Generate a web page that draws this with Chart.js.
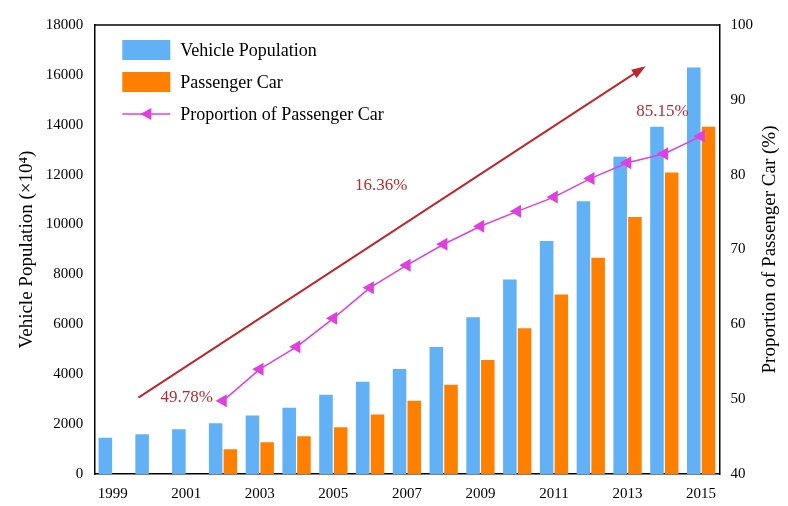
<!DOCTYPE html>
<html>
<head>
<meta charset="utf-8">
<script src="https://cdn.jsdelivr.net/npm/chart.js@4/dist/chart.umd.min.js"></script>
<style>
  body { margin: 0; background: #fff; }
  #wrap { width: 788px; height: 506px; }
</style>
</head>
<body>
<div id="wrap"><canvas id="c"></canvas></div>
<script>
// data
const years = ["1999","2000","2001","2002","2003","2004","2005","2006","2007","2008","2009","2010","2011","2012","2013","2014","2015"];
const vehiclePop = [1450, 1590, 1790, 2030, 2350, 2660, 3180, 3700, 4210, 5090, 6280, 7800, 9340, 10930, 12720, 13920, 16300];
const passengerCar = [null, null, null, 990, 1270, 1510, 1870, 2390, 2940, 3580, 4570, 5840, 7200, 8670, 10300, 12090, 13920];
const proportion = [null, null, null, 49.78, 54.0, 57.0, 60.8, 64.9, 67.9, 70.7, 73.1, 75.1, 77.0, 79.5, 81.6, 82.8, 85.15];

const serif = "'Liberation Serif', 'DejaVu Serif', serif";
const blue = "#62b0f5";
const orange = "#ff8000";
const magenta = "#e040e0";
const red = "#c0272d";

// arrow, legend, labels and frame
const extras = {
  id: "extras",
  afterDraw(chart) {
    const ctx = chart.ctx;
    const x = chart.scales.x, yr = chart.scales.y2;
    const area = chart.chartArea;
    ctx.save();
    // frame top
    ctx.strokeStyle = "#000";
    ctx.lineWidth = 1.5;
    ctx.beginPath();
    ctx.moveTo(area.left, area.top);
    ctx.lineTo(area.right, area.top);
    ctx.stroke();

    // right title, reading bottom to top
    ctx.save();
    ctx.translate(yr.right + 14, (area.top + area.bottom) / 2);
    ctx.rotate(-Math.PI / 2);
    ctx.font = "19px " + serif;
    ctx.fillStyle = "#000";
    ctx.textAlign = "center";
    ctx.textBaseline = "middle";
    ctx.fillText("Proportion of Passenger Car (%)", 0, 0);
    ctx.restore();

    // arrow
    const x1 = x.getPixelForValue(0.7), y1 = yr.getPixelForValue(50.2);
    const x2 = x.getPixelForValue(14.4), y2 = yr.getPixelForValue(94.2);
    ctx.strokeStyle = red;
    ctx.fillStyle = red;
    ctx.lineWidth = 2;
    ctx.beginPath();
    ctx.moveTo(x1, y1);
    ctx.lineTo(x2, y2);
    ctx.stroke();
    const ang = Math.atan2(y2 - y1, x2 - x1);
    ctx.beginPath();
    ctx.moveTo(x2 + 4 * Math.cos(ang), y2 + 4 * Math.sin(ang));
    ctx.lineTo(x2 - 10 * Math.cos(ang) + 5 * Math.sin(ang), y2 - 10 * Math.sin(ang) - 5 * Math.cos(ang));
    ctx.lineTo(x2 - 10 * Math.cos(ang) - 5 * Math.sin(ang), y2 - 10 * Math.sin(ang) + 5 * Math.cos(ang));
    ctx.closePath();
    ctx.fill();

    // value labels
    ctx.font = "17px " + serif;
    ctx.fillStyle = red;
    ctx.textBaseline = "middle";
    ctx.textAlign = "right";
    ctx.fillText("49.78%", x.getPixelForValue(3) - 10, yr.getPixelForValue(50.2));
    ctx.textAlign = "center";
    ctx.fillText("85.15%", x.getPixelForValue(15) - 2, yr.getPixelForValue(88.5));
    ctx.fillText("16.36%", x.getPixelForValue(7.3), yr.getPixelForValue(78.5));

    // legend
    const lx = area.left + 28, ly = area.top + 15;
    ctx.font = "18px " + serif;
    ctx.textAlign = "left";
    ctx.fillStyle = blue;
    ctx.fillRect(lx, ly, 48, 20);
    ctx.fillStyle = orange;
    ctx.fillRect(lx, ly + 32, 48, 20);
    ctx.strokeStyle = magenta;
    ctx.lineWidth = 1.5;
    ctx.beginPath();
    ctx.moveTo(lx, ly + 74);
    ctx.lineTo(lx + 48, ly + 74);
    ctx.stroke();
    ctx.fillStyle = magenta;
    ctx.beginPath();
    ctx.moveTo(lx + 18, ly + 74);
    ctx.lineTo(lx + 29, ly + 68);
    ctx.lineTo(lx + 29, ly + 80);
    ctx.closePath();
    ctx.fill();
    ctx.fillStyle = "#000";
    ctx.fillText("Vehicle Population", lx + 58, ly + 11);
    ctx.fillText("Passenger Car", lx + 58, ly + 43);
    ctx.fillText("Proportion of Passenger Car", lx + 58, ly + 75);
    ctx.restore();
  }
};

new Chart(document.getElementById("c"), {
  type: "bar",
  data: {
    labels: years,
    datasets: [
      { label: "Vehicle Population", data: vehiclePop, backgroundColor: blue, yAxisID: "y", order: 2, categoryPercentage: 0.8, barPercentage: 0.92 },
      { label: "Passenger Car", data: passengerCar, backgroundColor: orange, yAxisID: "y", order: 2, categoryPercentage: 0.8, barPercentage: 0.92 },
      {
        type: "line", label: "Proportion of Passenger Car", data: proportion, yAxisID: "y2", order: 1,
        borderColor: magenta, backgroundColor: magenta, borderWidth: 1.5,
        pointStyle: "triangle", rotation: -90, pointRadius: 6, pointHoverRadius: 6
      }
    ]
  },
  options: {
    responsive: true,
    maintainAspectRatio: false,
    animation: false,
    layout: { padding: { top: 25, right: 32, left: 12, bottom: 0 } },
    plugins: { legend: { display: false }, tooltip: { enabled: false } },
    scales: {
      x: {
        grid: { display: false, drawTicks: true },
        border: { color: "#000", width: 1.5 },
        ticks: {
          color: "#000", font: { family: serif, size: 15 }, maxRotation: 0, autoSkip: false,
          callback: function (v, i) { return i % 2 === 0 ? years[i] : ""; }
        }
      },
      y: {
        position: "left", min: 0, max: 18000,
        grid: { display: false },
        border: { color: "#000", width: 1.5 },
        ticks: { stepSize: 2000, color: "#000", font: { family: serif, size: 15 }, callback: v => String(v) },
        title: { display: true, text: "Vehicle Population (×10⁴)", color: "#000", font: { family: serif, size: 19 } }
      },
      y2: {
        position: "right", min: 40, max: 100,
        grid: { display: false },
        border: { color: "#000", width: 1.5 },
        ticks: { stepSize: 10, color: "#000", font: { family: serif, size: 15 } }
      }
    }
  },
  plugins: [extras]
});
</script>
</body>
</html>
